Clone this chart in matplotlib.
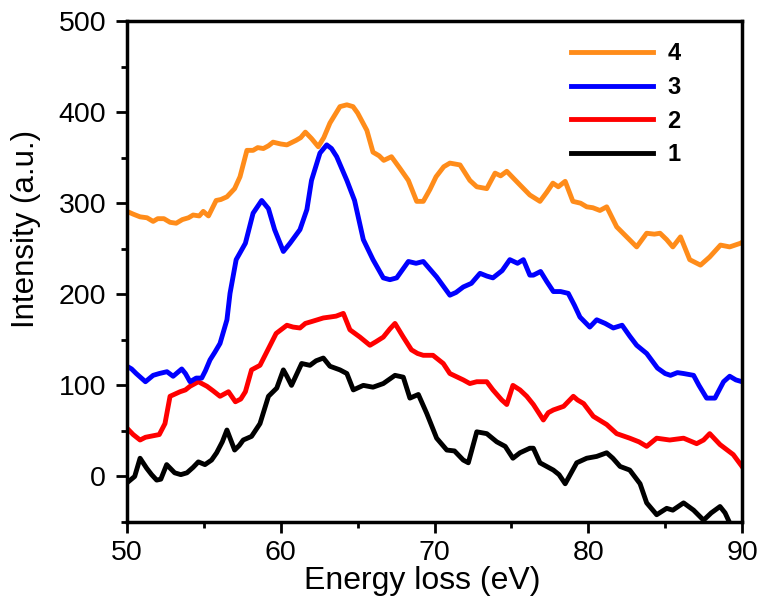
import matplotlib.pyplot as plt

plt.rcParams['font.family'] = ['Liberation Sans', 'DejaVu Sans']

# spectrum 1 (black)
e1 = [50.0, 50.5, 50.85, 51.28, 51.6, 51.93, 52.2, 52.58, 53.1, 53.5, 53.9, 54.3, 54.64, 55.07, 55.5,
      55.83, 56.2, 56.5, 57.0, 57.3, 57.56, 58.1, 58.65, 59.2, 59.74, 60.17, 60.4, 60.7, 61.36, 61.9,
      62.3, 62.77, 63.2, 63.85, 64.3, 64.72, 65.37, 66.0, 66.67, 67.43, 67.97, 68.4, 68.95, 69.5, 70.14,
      70.8, 71.3, 71.87, 72.2, 72.75, 73.4, 74.05, 74.6, 75.1, 75.56, 76.2, 76.43, 76.86, 77.73, 78.1,
      78.5, 79.25, 79.9, 80.55, 81.2, 81.6, 82.07, 82.7, 83.37, 83.8, 84.45, 85.1, 85.5, 86.2, 86.85,
      87.5, 88.0, 88.57, 88.9, 89.2, 89.5]
i1 = [-7, 0, 20, 9, 2, -4, -3, 13, 4, 2, 4, 10, 16, 13, 18,
      26, 38, 51, 29, 34, 40, 44, 58, 88, 97, 117, 110, 100, 124, 122,
      127, 130, 121, 117, 113, 95, 100, 98, 102, 111, 109, 86, 90, 69, 42,
      29, 28, 18, 15, 49, 47, 38, 33, 20, 26, 31, 31, 15, 7, 2,
      -8, 15, 20, 22, 26, 20, 11, 7, -8, -29, -42, -35, -37, -29, -37,
      -48, -40, -33, -40, -51, -60]

# spectrum 2 (red)
e2 = [50.0, 50.4, 50.85, 51.2, 51.5, 52.1, 52.47, 52.8, 53.45, 53.8, 54.1, 54.64, 55.2, 55.6, 56.05,
      56.6, 57.05, 57.4, 57.7, 58.1, 58.65, 59.1, 59.7, 60.4, 60.8, 61.25, 61.6, 62.0, 62.77, 63.2,
      63.6, 64.07, 64.5, 65.15, 65.8, 66.2, 66.67, 67.1, 67.43, 67.97, 68.5, 68.9, 69.27, 69.9, 70.57,
      71.0, 71.87, 72.3, 72.75, 73.4, 73.8, 74.37, 74.7, 75.1, 75.56, 76.0, 76.43, 77.08, 77.4, 77.73,
      78.4, 79.03, 79.3, 79.7, 80.33, 81.2, 81.85, 82.7, 83.3, 83.8, 84.45, 85.3, 86.2, 87.05, 87.5,
      87.9, 88.57, 89.43, 90.0]
i2 = [53, 46, 40, 43, 44, 46, 58, 88, 93, 95, 99, 104, 99, 94, 88,
      93, 82, 85, 93, 117, 122, 137, 157, 166, 164, 163, 168, 170, 174, 175,
      176, 179, 161, 153, 144, 148, 153, 162, 168, 153, 139, 135, 133, 133, 124,
      113, 106, 102, 104, 104, 95, 84, 79, 100, 95, 88, 79, 62, 70, 73,
      77, 88, 84, 80, 66, 57, 47, 42, 38, 33, 42, 40, 42, 36, 40,
      47, 35, 24, 11]

# spectrum 3 (blue)
e3 = [50.0, 50.3, 50.6, 51.2, 51.7, 52.1, 52.6, 53.0, 53.56, 53.8, 54.1, 54.5, 54.86, 55.1, 55.4,
      55.7, 56.05, 56.5, 56.7, 57.1, 57.7, 58.2, 58.76, 59.2, 59.6, 60.17, 60.6, 61.25, 61.7, 62.0,
      62.55, 62.99, 63.3, 63.64, 64.3, 64.8, 65.37, 66.0, 66.67, 67.1, 67.54, 68.3, 68.8, 69.27, 70.14,
      71.0, 71.4, 71.87, 72.4, 72.96, 73.4, 73.8, 74.4, 74.9, 75.4, 75.78, 76.2, 76.43, 76.9, 77.3,
      77.73, 78.2, 78.7, 79.1, 79.46, 80.1, 80.55, 81.1, 81.63, 82.2, 82.7, 83.15, 83.8, 84.5, 85.0,
      85.35, 85.8, 86.2, 86.85, 87.2, 87.7, 88.24, 88.8, 89.2, 89.6, 90.0]
i3 = [121, 118, 113, 104, 111, 113, 115, 110, 118, 113, 104, 108, 108, 116, 128,
      136, 146, 172, 201, 238, 256, 289, 303, 294, 271, 247, 256, 271, 293, 325,
      355, 364, 360, 351, 325, 303, 260, 238, 218, 216, 218, 236, 234, 236, 219,
      199, 202, 208, 212, 223, 220, 218, 226, 238, 234, 238, 221, 221, 225, 214,
      203, 203, 201, 188, 175, 164, 172, 168, 163, 166, 154, 144, 135, 119, 113,
      111, 114, 113, 111, 100, 86, 86, 104, 110, 106, 104]

# spectrum 4 (orange)
e4 = [50.0, 50.4, 50.85, 51.3, 51.7, 52.0, 52.4, 52.8, 53.2, 53.6, 54.0, 54.3, 54.7, 54.96, 55.3,
      55.8, 56.1, 56.5, 57.0, 57.35, 57.8, 58.2, 58.5, 58.87, 59.2, 59.5, 60.0, 60.4, 61.0, 61.3,
      61.6, 62.0, 62.44, 62.8, 63.2, 63.85, 64.3, 64.7, 65.0, 65.6, 66.0, 66.4, 66.7, 67.2, 67.76,
      68.3, 68.84, 69.27, 69.7, 70.1, 70.6, 71.0, 71.66, 72.3, 72.75, 73.4, 73.94, 74.3, 74.7, 75.1,
      75.56, 76.2, 76.86, 77.3, 77.7, 78.05, 78.5, 79.0, 79.5, 79.9, 80.3, 80.76, 81.2, 81.85, 82.5,
      83.15, 83.8, 84.3, 84.67, 85.1, 85.5, 86.0, 86.6, 87.3, 87.9, 88.6, 89.2, 89.9, 90.0]
i4 = [291, 288, 285, 284, 280, 283, 283, 279, 278, 282, 284, 287, 286, 291, 286,
      303, 304, 307, 316, 329, 358, 358, 361, 360, 363, 367, 365, 364, 369, 372,
      378, 371, 362, 372, 388, 406, 408, 406, 399, 380, 356, 352, 347, 351, 338,
      325, 302, 302, 315, 329, 340, 344, 342, 325, 318, 316, 333, 330, 335, 328,
      320, 309, 302, 312, 322, 318, 324, 302, 300, 296, 295, 292, 296, 274, 263,
      252, 267, 266, 267, 260, 252, 263, 238, 232, 241, 254, 252, 256, 257]

labels = ['1', '2', '3', '4']
colors = ['black', '#ff0000', '#0000ff', '#ff8c1a']

fig = plt.figure(figsize=(7.61, 6.08), dpi=100)
ax = fig.add_axes([127 / 761, 86 / 608, 615 / 761, 501 / 608])

lines = []
for e, i, lab, c in zip([e1, e2, e3, e4], [i1, i2, i3, i4], labels, colors):
    ln, = ax.plot(e, i, color=c, lw=3.5, label=lab, solid_joinstyle='round')
    lines.append(ln)

ax.set_xlim(50, 90)
ax.set_ylim(-50, 500)
ax.set_xticks([50, 60, 70, 80, 90])
ax.set_xticks([55, 65, 75, 85], minor=True)
ax.set_yticks([0, 100, 200, 300, 400, 500])
ax.set_yticks([-50, 50, 150, 250, 350, 450], minor=True)
ax.tick_params(which='major', direction='out', length=8, width=2, labelsize=20.5)
ax.tick_params(axis='y', which='major', pad=7)
ax.tick_params(axis='x', which='major', pad=5)
ax.tick_params(which='minor', direction='out', length=4, width=2)
ax.tick_params(top=False, right=False, which='both')
for s in ax.spines.values():
    s.set_linewidth(2.5)

ax.set_xlabel('Energy loss (eV)', fontsize=23)
ax.xaxis.set_label_coords(0.48, -0.088)
ax.set_ylabel('Intensity (a.u.)', fontsize=22.5)
ax.yaxis.set_label_coords(-0.14, 0.585)

leg = ax.legend(lines[::-1], labels[::-1], loc='upper right', bbox_to_anchor=(0.935, 1.0),
                frameon=False, prop={'weight': 'bold', 'size': 17},
                handlelength=3.5, handletextpad=0.6, labelspacing=0.45)
for h in leg.get_lines():
    h.set_linewidth(3.5)

fig.savefig('out.png', dpi=100)
